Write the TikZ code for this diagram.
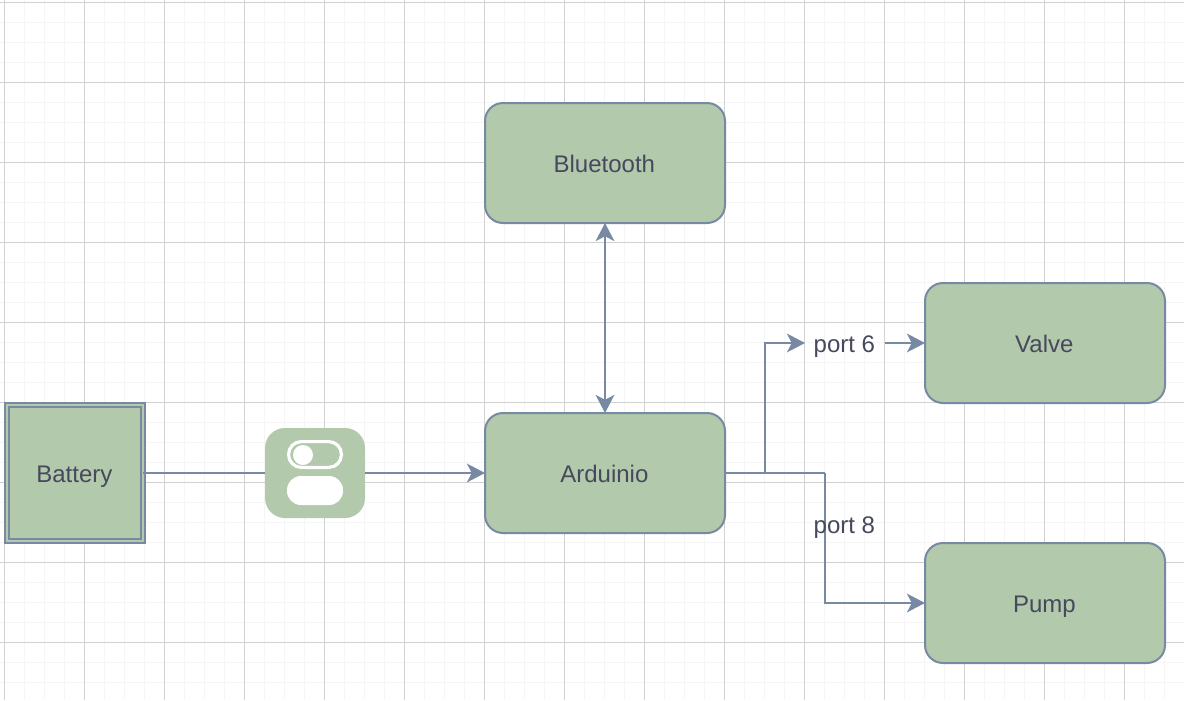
\documentclass[tikz,border=0pt]{standalone}
\usepackage{fontspec}
\setmainfont{Liberation Sans}
\usetikzlibrary{arrows.meta}
\definecolor{strokeC}{HTML}{788AA3}
\definecolor{fillC}{HTML}{B2C9AB}
\definecolor{textC}{HTML}{46495D}
\definecolor{majorC}{HTML}{D2D2D2}
\definecolor{minorC}{HTML}{F5F5F5}
\tikzset{
  every node/.style={font=\fontsize{18pt}{21pt}\selectfont, text=textC, text height=13.5pt, text depth=0pt, outer sep=0pt, execute at end node={\kern1pt}},
  blockbox/.style={draw=strokeC, fill=fillC, line width=1.5pt, rounded corners=13.5pt, minimum width=180pt, minimum height=90pt, inner sep=0pt},
  batterybox/.style={draw=strokeC, fill=fillC, line width=1.5pt, double=fillC, double distance=1.5pt, minimum width=102pt, minimum height=102pt, inner sep=0pt},
  switchbox/.style={fill=fillC, rounded corners=15pt, minimum width=75pt, minimum height=67.5pt, inner sep=0pt},
  plainlabel/.style={minimum width=60pt, minimum height=22.5pt, inner sep=0pt},
  wire/.style={draw=strokeC, line width=1.5pt},
  arrowwire/.style={wire, -{Stealth[length=13.5pt, width=14pt, inset=3.5pt]}},
  bothwire/.style={wire, {Stealth[length=13.5pt, width=14pt, inset=3.5pt]}-{Stealth[length=13.5pt, width=14pt, inset=3.5pt]}},
}
\begin{document}
\begin{tikzpicture}[x=0.75pt, y=-0.75pt]
\useasboundingbox (0,0) rectangle (1184,700);
\fill[white] (0,0) rectangle (1184,700);
% minor grid
\foreach \k in {0,...,59} {\draw[minorC, line width=1.3pt] ({4.5+20*\k},0) -- ({4.5+20*\k},700);}
\foreach \k in {0,...,35} {\draw[minorC, line width=1.3pt] (0,{2.5+20*\k}) -- (1184,{2.5+20*\k});}
% major grid
\foreach \k in {0,...,14} {\draw[majorC, line width=0.75pt] ({4.5+80*\k},0) -- ({4.5+80*\k},700);}
\foreach \k in {0,...,8} {\draw[majorC, line width=0.75pt] (0,{2.5+80*\k}) -- (1184,{2.5+80*\k});}
% nodes
\node[blockbox] (bluetooth) at (605,163) {Bluetooth};
\node[blockbox] (arduino) at (605,473) {Arduinio};
\node[blockbox] (valve) at (1045,343) {Valve};
\node[blockbox] (pump) at (1045,603) {Pump};
\node[batterybox] (battery) at (75,473) {Battery};
\node[plainlabel] (port6) at (845,343) {port 6};
\coordinate (branchA) at (765,473);
\coordinate (branchB) at (825,473);
% connectors
\draw[bothwire] (bluetooth) -- (arduino);
\draw[wire] (arduino.east) -- (branchB);
\draw[arrowwire] (branchA) |- (port6.west);
\draw[arrowwire] (port6.east) -- (valve.west);
\draw[arrowwire] (branchB) |- (pump.west);
\node[switchbox] (switch) at (315,473) {};
\draw[wire] (battery.east) -- (switch.west);
\draw[arrowwire] (switch.east) -- (arduino.west);
% switch icon
\draw[white, line width=2.4pt, rounded corners=9.5pt] (288.6,441.6) rectangle (341.4,467.4);
\fill[white] (303,455) circle[radius=10];
\fill[white, rounded corners=10.5pt] (287,476) rectangle (343,505);
\node[plainlabel] (port8) at (845,524) {port 8};
\end{tikzpicture}
\end{document}
